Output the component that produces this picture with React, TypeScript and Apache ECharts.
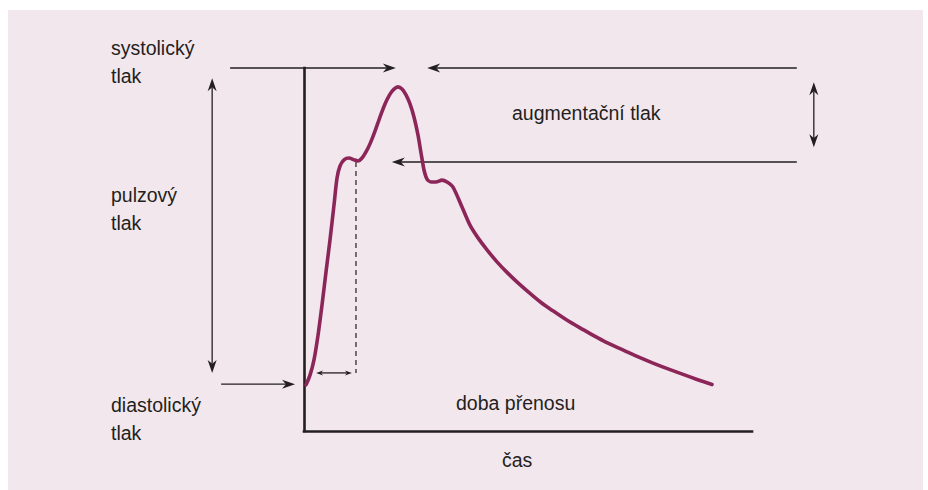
import React, { useEffect, useRef } from "react";
import * as echarts from "echarts";

// ---- data (axis units: time 0–100 along the time axis, pressure 0–100 along the pressure axis)
const curveTime = [
  0.45, 1.34, 2.23, 3.13, 4.02, 4.91, 5.8, 6.7, 7.37, 8.04, 8.93, 10.04, 11.16, 12.05, 12.95,
  13.84, 14.73, 15.85, 16.96, 18.08, 19.2, 20.09, 20.98, 21.88, 22.77, 23.66, 24.55, 25.45,
  26.12, 26.79, 27.46, 28.35, 29.46, 30.8, 31.92, 33.26, 35.27, 37.05, 38.84, 40.85, 43.08,
  45.31, 47.77, 50.45, 52.9, 55.58, 58.48, 61.61, 64.06, 66.74, 69.42, 72.1, 75.0, 77.9,
  81.25, 84.6, 87.72, 91.07,
];
const curvePressure = [
  12.7, 15.4, 19.6, 26.4, 34.7, 43.8, 52.6, 62.3, 69.7, 73.0, 74.7, 75.2, 74.7, 74.4, 75.2,
  76.9, 79.1, 82.6, 86.5, 90.1, 92.8, 94.2, 94.8, 94.2, 92.6, 90.1, 86.5, 81.5,
  76.6, 71.9, 69.4, 68.6, 68.6, 69.1, 68.6, 67.2, 61.7, 56.7, 53.2, 49.9, 46.6,
  43.7, 40.8, 37.9, 35.4, 33.1, 30.7, 28.4, 26.7, 24.9, 23.3, 21.8, 20.2, 18.7,
  17.1, 15.6, 14.2, 12.8,
];

// arrows: start point, end point, head at start / head at end
const arrowFrom = [
  [-16.5, 100], [110, 100], [110, 74.1], [113.8, 78.2], [-20.5, 16.0], [-18.5, 12.9], [2.7, 16.0],
];
const arrowTo = [
  [20.5, 100], [27.5, 100], [19.6, 74.1], [113.8, 96.1], [-20.5, 97.2], [-2.0, 12.9], [10.7, 16.0],
];
const arrowHeads = [
  [0, 1], [0, 1], [0, 1], [1, 1], [1, 1], [0, 1], [1, 1],
];

// transit time marker (dashed)
const transitTime = [11.6, 11.6];
const transitPressure = [74.1, 16.0];

// texts
const labelTexts = [
  "systolický", "tlak", "pulzový", "tlak", "diastolický", "tlak",
  "augmentační tlak", "doba přenosu", "čas",
];

// ---- layout / style
const INK = "#231f20";
const CURVE = "#8c2659";
const BG = "#f3e7ee";
const FONT = '19.5px "Liberation Sans", Arial, sans-serif';
const labelPos = [
  [111, 48], [111, 76], [111, 195], [111, 223], [111, 405], [111, 433],
  [512, 113], [456, 403], [502, 460],
];

export default function App() {
  const ref = useRef<HTMLDivElement>(null);

  useEffect(() => {
    if (!ref.current) return;
    const chart = echarts.init(ref.current, null, { renderer: "svg" });

    const arrowData = arrowFrom.map((f, i) => [
      f[0], f[1], arrowTo[i][0], arrowTo[i][1], arrowHeads[i][0], arrowHeads[i][1],
    ]);

    const renderArrow = (params: any, api: any) => {
      const a = api.coord([api.value(0), api.value(1)]);
      const b = api.coord([api.value(2), api.value(3)]);
      const hs = api.value(4);
      const he = api.value(5);
      const dx = b[0] - a[0];
      const dy = b[1] - a[1];
      const len = Math.hypot(dx, dy) || 1;
      const ux = dx / len;
      const uy = dy / len;
      const small = len < 60;
      const L = small ? 7 : 13;
      const Wd = small ? 5 : 9;
      const head = (tip: number[], dirx: number, diry: number) => {
        const nx = -diry;
        const ny = dirx;
        const bx = tip[0] - dirx * L;
        const by = tip[1] - diry * L;
        const mx = tip[0] - dirx * L * 0.7;
        const my = tip[1] - diry * L * 0.7;
        return {
          type: "polygon",
          shape: {
            points: [
              [tip[0], tip[1]],
              [bx + (nx * Wd) / 2, by + (ny * Wd) / 2],
              [mx, my],
              [bx - (nx * Wd) / 2, by - (ny * Wd) / 2],
            ],
          },
          style: { fill: INK },
        };
      };
      const s = hs ? [a[0] + ux * L * 0.7, a[1] + uy * L * 0.7] : a;
      const e = he ? [b[0] - ux * L * 0.7, b[1] - uy * L * 0.7] : b;
      const children: any[] = [
        {
          type: "line",
          shape: { x1: s[0], y1: s[1], x2: e[0], y2: e[1] },
          style: { stroke: INK, lineWidth: 1.3 },
        },
      ];
      if (he) children.push(head(b, ux, uy));
      if (hs) children.push(head(a, -ux, -uy));
      return { type: "group", children };
    };

    chart.setOption({
      animation: false,
      backgroundColor: "#ffffff",
      grid: { left: 304, top: 68, width: 448, height: 363, containLabel: false },
      xAxis: {
        type: "value",
        min: 0,
        max: 100,
        axisLine: { show: true, onZero: false, lineStyle: { color: INK, width: 2.6, cap: "square" } },
        axisTick: { show: false },
        axisLabel: { show: false },
        splitLine: { show: false },
      },
      yAxis: {
        type: "value",
        min: 0,
        max: 100,
        axisLine: { show: true, onZero: false, lineStyle: { color: INK, width: 2.6, cap: "square" } },
        axisTick: { show: false },
        axisLabel: { show: false },
        splitLine: { show: false },
      },
      graphic: [
        {
          type: "rect",
          z: -10,
          silent: true,
          shape: { x: 8, y: 10, width: 915, height: 480 },
          style: { fill: BG },
        },
        ...labelTexts.map((t, i) => ({
          type: "text",
          z: 100,
          silent: true,
          x: labelPos[i][0],
          y: labelPos[i][1],
          style: {
            text: t,
            fill: INK,
            font: FONT,
            textAlign: "left",
            textVerticalAlign: "middle",
          },
        })),
      ],
      series: [
        {
          type: "line",
          name: "transit",
          data: transitTime.map((t, i) => [t, transitPressure[i]]),
          showSymbol: false,
          symbol: "none",
          silent: true,
          lineStyle: { color: "#4a4547", width: 1.5, type: [5, 4] },
          z: 3,
        },
        {
          type: "line",
          name: "pressure",
          data: curveTime.map((t, i) => [t, curvePressure[i]]),
          smooth: 0.25,
          showSymbol: false,
          symbol: "none",
          silent: true,
          clip: false,
          lineStyle: { color: CURVE, width: 3.6, cap: "round", join: "round" },
          z: 5,
        },
        {
          type: "custom",
          name: "arrows",
          silent: true,
          clip: false,
          renderItem: renderArrow,
          encode: { x: [0, 2], y: [1, 3] },
          data: arrowData,
          z: 4,
        },
      ],
    });

    return () => chart.dispose();
  }, []);

  return (
    <div
      ref={ref}
      style={{ position: "absolute", left: 0, top: 0, width: 928, height: 490 }}
    />
  );
}
